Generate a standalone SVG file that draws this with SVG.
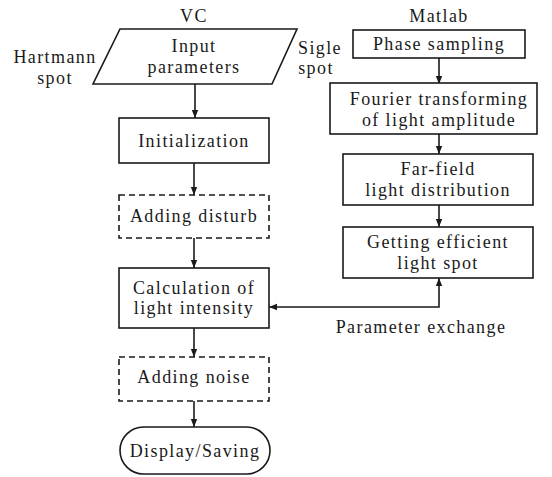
<svg xmlns="http://www.w3.org/2000/svg" width="552" height="477" viewBox="0 0 552 477">
<style>
text{font-family:'Liberation Serif','Times New Roman',Times,serif;font-size:18px;fill:#1a1a1a;text-anchor:middle;letter-spacing:1.4px}
.b{fill:#fff;stroke:#1a1a1a;stroke-width:1.6}
.d{fill:#fff;stroke:#1a1a1a;stroke-width:1.6;stroke-dasharray:6,4}
.c{fill:none;stroke:#1a1a1a;stroke-width:1.6}
</style>
<defs>
<marker id="ah" viewBox="0 0 10 10" refX="10" refY="5" markerWidth="8" markerHeight="8" markerUnits="userSpaceOnUse" orient="auto-start-reverse">
<path d="M0,1 L10,5 L0,9 Z" fill="#1a1a1a"/>
</marker>
</defs>
<text x="194" y="22">VC</text>
<text x="439" y="22">Matlab</text>
<text x="55" y="63">Hartmann</text>
<text x="55" y="84">spot</text>
<text x="320" y="54">Sigle</text>
<text x="316" y="74">spot</text>
<text x="421" y="333">Parameter exchange</text>
<g id="connectors">
<line class="c" x1="195" y1="84" x2="195" y2="118" marker-end="url(#ah)"/>
<line class="c" x1="194" y1="163" x2="194" y2="195" marker-end="url(#ah)"/>
<line class="c" x1="194" y1="238" x2="194" y2="268" marker-end="url(#ah)"/>
<line class="c" x1="194" y1="328" x2="194" y2="357" marker-end="url(#ah)"/>
<line class="c" x1="194" y1="401" x2="194" y2="427" marker-end="url(#ah)"/>
<line class="c" x1="439" y1="58" x2="439" y2="84" marker-end="url(#ah)"/>
<line class="c" x1="439" y1="134" x2="439" y2="154" marker-end="url(#ah)"/>
<line class="c" x1="439" y1="205" x2="439" y2="227" marker-end="url(#ah)"/>
<polyline class="c" points="269,307 439,307 439,278" marker-start="url(#ah)" marker-end="url(#ah)"/>
</g>
<g id="input">
<polygon class="b" points="120,29 297,29 272,84 93,84"/>
<text x="194" y="52">Input</text>
<text x="194" y="73">parameters</text>
</g>
<g id="init">
<rect class="b" x="119" y="118" width="150" height="45"/>
<text x="194" y="147">Initialization</text>
</g>
<g id="disturb">
<rect class="d" x="119" y="195" width="150" height="43"/>
<text x="194" y="222">Adding disturb</text>
</g>
<g id="calc">
<rect class="b" x="119" y="268" width="150" height="60"/>
<text x="194" y="294">Calculation of</text>
<text x="194" y="314">light intensity</text>
</g>
<g id="noise">
<rect class="d" x="119" y="357" width="150" height="44"/>
<text x="194" y="383">Adding noise</text>
</g>
<g id="display">
<rect class="b" x="120" y="427" width="150" height="47" rx="23.5"/>
<text x="195" y="457">Display/Saving</text>
</g>
<g id="phase">
<rect class="b" x="353" y="30" width="172" height="28"/>
<text x="439" y="50">Phase sampling</text>
</g>
<g id="fourier">
<rect class="b" x="330" y="83" width="207" height="51"/>
<text x="439" y="105">Fourier transforming</text>
<text x="439" y="126">of light amplitude</text>
</g>
<g id="farfield">
<rect class="b" x="343" y="154" width="190" height="51"/>
<text x="438" y="175">Far-field</text>
<text x="438" y="196">light distribution</text>
</g>
<g id="getting">
<rect class="b" x="343" y="227" width="190" height="51"/>
<text x="438" y="248">Getting efficient</text>
<text x="438" y="269">light spot</text>
</g>
</svg>
